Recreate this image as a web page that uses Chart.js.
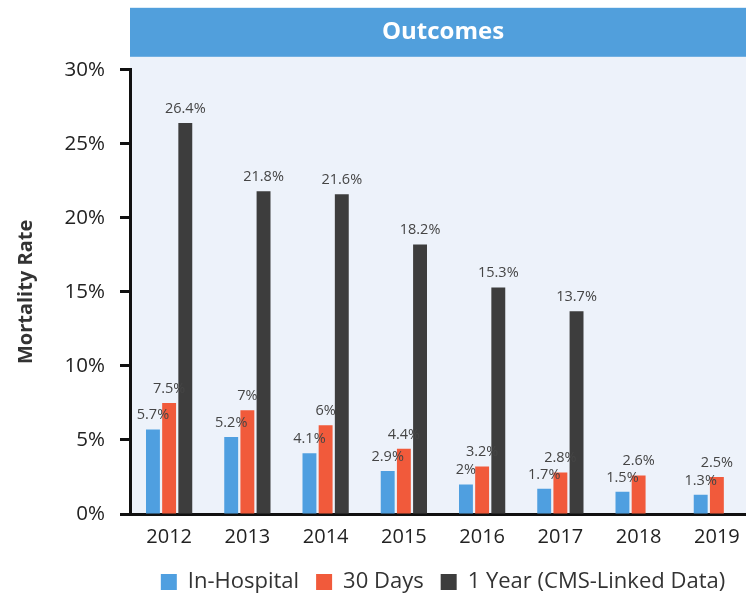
<!DOCTYPE html>
<html>
<head>
<meta charset="utf-8">
<script src="https://cdn.jsdelivr.net/npm/chart.js@4.4.1/dist/chart.umd.min.js"></script>
<style>
  html, body { margin: 0; padding: 0; background: #ffffff; overflow: hidden; }
  #wrap { position: relative; width: 756px; height: 593px; }
</style>
</head>
<body>
<div id="wrap"><canvas id="chart"></canvas></div>
<script>
// Mortality rates by year (percent)
const years = ['2012', '2013', '2014', '2015', '2016', '2017', '2018', '2019'];
const inHospital = [5.7, 5.2, 4.1, 2.9, 2, 1.7, 1.5, 1.3];
const thirtyDays = [7.5, 7, 6, 4.4, 3.2, 2.8, 2.6, 2.5];
const oneYear = [26.4, 21.8, 21.6, 18.2, 15.3, 13.7, null, null];
const seriesNames = ['In-Hospital', '30 Days', '1 Year (CMS-Linked Data)'];
const yTicks = [0, 5, 10, 15, 20, 25, 30];

const FONT = "'Open Sans', 'Noto Sans', sans-serif";

// Panel background plus the blue header band behind the title
const panelPlugin = {
  id: 'panel',
  beforeDraw(chart) {
    const { ctx, chartArea } = chart;
    const bandTop = chartArea.top - 62;
    const bandBottom = chartArea.top - 13;
    ctx.save();
    ctx.fillStyle = '#edf2fa';
    ctx.fillRect(chartArea.left, bandBottom, chartArea.right - chartArea.left, chartArea.bottom - bandBottom);
    ctx.fillStyle = '#519fdc';
    ctx.fillRect(chartArea.left, bandTop, chartArea.right - chartArea.left, bandBottom - bandTop);
    ctx.restore();
  }
};

// Value labels above each bar
const valueLabels = {
  id: 'valueLabels',
  afterDatasetsDraw(chart) {
    const { ctx } = chart;
    ctx.save();
    ctx.font = '14.5px ' + FONT;
    ctx.fillStyle = '#454545';
    ctx.textAlign = 'center';
    ctx.textBaseline = 'bottom';
    chart.data.datasets.forEach((ds, i) => {
      const meta = chart.getDatasetMeta(i);
      meta.data.forEach((bar, j) => {
        const v = ds.data[j];
        if (v === null || v === undefined) return;
        ctx.fillText(v + '%', bar.x, bar.y - 7);
      });
    });
    ctx.restore();
  }
};

new Chart(document.getElementById('chart'), {
  type: 'bar',
  data: {
    labels: years,
    datasets: [
      { label: seriesNames[0], data: inHospital, backgroundColor: '#4f9fe0' },
      { label: seriesNames[1], data: thirtyDays, backgroundColor: '#f15a3b' },
      { label: seriesNames[2], data: oneYear, backgroundColor: '#3d3d3d' }
    ]
  },
  options: {
    responsive: true,
    maintainAspectRatio: false,
    animation: false,
    layout: { padding: { top: 0, right: 0, bottom: -10, left: 0 } },
    datasets: {
      bar: { categoryPercentage: 0.62, barPercentage: 0.86 }
    },
    scales: {
      x: {
        afterFit(scale) { scale.height = 40; },
        grid: { display: false, drawTicks: false },
        border: { display: true, color: '#111111', width: 3 },
        ticks: { color: '#222222', font: { family: FONT, size: 20 }, padding: 11 }
      },
      y: {
        min: 0,
        max: 30,
        afterBuildTicks(scale) { scale.ticks = yTicks.map(v => ({ value: v })); },
        afterFit(scale) { scale.width = 130; },
        grid: { drawOnChartArea: false, drawTicks: true, tickLength: 10, tickWidth: 3, tickColor: '#111111' },
        border: { display: true, color: '#111111', width: 3 },
        ticks: {
          color: '#222222',
          font: { family: FONT, size: 20.5 },
          padding: 15,
          callback: v => v + '%'
        },
        title: {
          display: true,
          text: 'Mortality Rate',
          color: '#333333',
          font: { family: FONT, size: 20, weight: 'bold' },
          padding: { top: 14, bottom: 0 }
        }
      }
    },
    plugins: {
      title: {
        display: true,
        fullSize: false,
        text: 'Outcomes',
        color: '#ffffff',
        font: { family: FONT, size: 24, weight: 'bold' },
        padding: { top: 18, bottom: 23 }
      },
      legend: {
        position: 'bottom',
        fullSize: false,
        labels: {
          color: '#333333',
          font: { family: FONT, size: 22 },
          boxWidth: 16,
          boxHeight: 16,
          padding: 17
        }
      },
      tooltip: { enabled: false }
    }
  },
  plugins: [panelPlugin, valueLabels]
});
</script>
</body>
</html>
